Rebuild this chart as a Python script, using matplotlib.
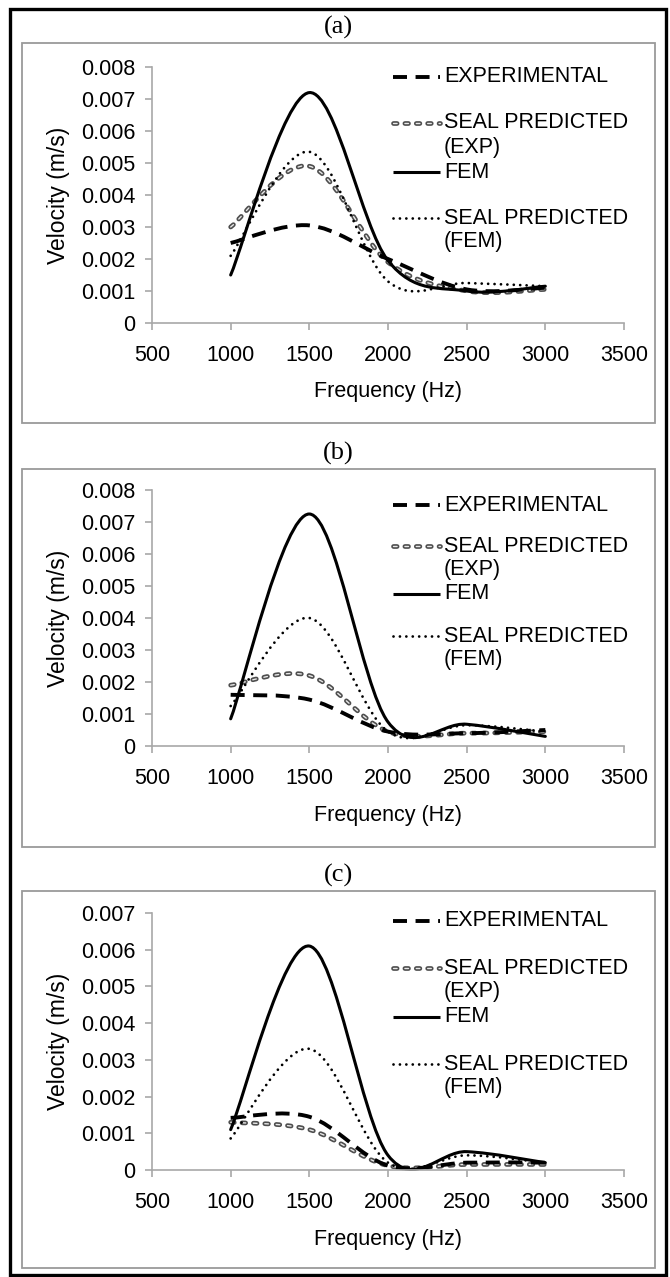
import numpy as np
import matplotlib
matplotlib.use('Agg')
import matplotlib.pyplot as plt
from matplotlib.path import Path
from matplotlib.patches import PathPatch, Rectangle
from matplotlib.lines import Line2D
import matplotlib.patheffects as pe

plt.rcParams['font.family'] = ['Liberation Sans', 'DejaVu Sans']

# ---------------- data ----------------
freq = [1000, 1500, 2000, 2500, 3000]

a_exp = [0.0025, 0.00305, 0.0020, 0.00105, 0.00110]
a_seal_exp = [0.0030, 0.0049, 0.0019, 0.00100, 0.00105]
a_fem = [0.0015, 0.0072, 0.00195, 0.0010, 0.00115]
a_seal_fem = [0.0021, 0.00535, 0.0013, 0.00125, 0.00115]

b_exp = [0.0016, 0.00145, 0.00045, 0.0004, 0.0005]
b_seal_exp = [0.0019, 0.0022, 0.00045, 0.0004, 0.00045]
b_fem = [0.00085, 0.00725, 0.00075, 0.00068, 0.0003]
b_seal_fem = [0.00125, 0.0040, 0.00045, 0.00065, 0.00045]

c_exp = [0.00142, 0.00145, 0.00012, 0.0002, 0.0002]
c_seal_exp = [0.0013, 0.0011, 0.00012, 0.00015, 0.00015]
c_fem = [0.0011, 0.0061, 0.0004, 0.0005, 0.0002]
c_seal_fem = [0.00086, 0.0033, 0.0002, 0.0004, 0.0002]

panel_titles = ['(a)', '(b)', '(c)']
series_labels = ['EXPERIMENTAL', 'SEAL PREDICTED\n(EXP)', 'FEM', 'SEAL PREDICTED\n(FEM)']
x_ticks = [500, 1000, 1500, 2000, 2500, 3000, 3500]
y_ticks_ab = [0, 0.001, 0.002, 0.003, 0.004, 0.005, 0.006, 0.007, 0.008]
y_ticks_c = [0, 0.001, 0.002, 0.003, 0.004, 0.005, 0.006, 0.007]
y_ticklabels_ab = ['0', '0.001', '0.002', '0.003', '0.004', '0.005', '0.006', '0.007', '0.008']
y_ticklabels_c = ['0', '0.001', '0.002', '0.003', '0.004', '0.005', '0.006', '0.007']
xlabel = 'Frequency (Hz)'
ylabel = 'Velocity (m/s)'

panels = [
    (a_exp, a_seal_exp, a_fem, a_seal_fem, y_ticks_ab, y_ticklabels_ab),
    (b_exp, b_seal_exp, b_fem, b_seal_fem, y_ticks_ab, y_ticklabels_ab),
    (c_exp, c_seal_exp, c_fem, c_seal_fem, y_ticks_c, y_ticklabels_c),
]

# ---------------- layout (pixels) ----------------
W, H = 670, 1277
fig = plt.figure(figsize=(W / 100, H / 100), dpi=100)


def fx(x):
    return x / W


def fy(y):
    return 1 - y / H


gray_boxes = [(22, 43, 655, 423), (22, 469, 655, 847), (22, 891, 655, 1268)]
ax_boxes = [(152, 67, 624, 323), (152, 490, 624, 746), (152, 913, 624, 1170)]
legend_rows = [[77, 123, 172, 218], [505, 546, 594, 636], [921, 968, 1017, 1064]]

# outer black border
fig.add_artist(Rectangle((fx(10), fy(1275)), fx(666) - fx(10), fy(9) - fy(1275),
                         transform=fig.transFigure, fill=False, ec='black', lw=2.4))
for (x0, y0, x1, y1) in gray_boxes:
    fig.add_artist(Rectangle((fx(x0), fy(y1)), fx(x1) - fx(x0), fy(y0) - fy(y1),
                             transform=fig.transFigure, fill=False, ec='#9a9a9a', lw=1.3))


def smooth_path(x, y):
    pts = np.column_stack([x, y]).astype(float)
    n = len(pts)
    verts = [pts[0]]
    codes = [Path.MOVETO]
    for i in range(n - 1):
        p0 = pts[i - 1] if i > 0 else pts[i]
        p1 = pts[i]
        p2 = pts[i + 1]
        p3 = pts[i + 2] if i + 2 < n else pts[i + 1]
        c1 = p1 + (p2 - p0) / 6.0
        c2 = p2 - (p3 - p1) / 6.0
        verts += [c1, c2, p2]
        codes += [Path.CURVE4] * 3
    return Path(verts, codes)


styles = [
    dict(color='black', lw=2.8, ls=(0, (3.6, 2.2)), cap='butt', fx=None),
    dict(color='#e8e8e8', lw=1.0, ls=(0, (2.6, 5.6)), cap='round',
         fx=[pe.Stroke(linewidth=3.4, foreground='#4e4e4e', capstyle='round'), pe.Normal()]),
    dict(color='black', lw=2.2, ls='-', cap='round', fx=None),
    dict(color='black', lw=2.0, ls=(0, (0.01, 2.3)), cap='round', fx=None),
]

FS = 15.5

for k, (exp, sexp, fem, sfem, yt, ytl) in enumerate(panels):
    x0, y0, x1, y1 = ax_boxes[k]
    ax = fig.add_axes([fx(x0), fy(y1), fx(x1) - fx(x0), fy(y0) - fy(y1)])
    ax.set_xlim(500, 3500)
    ax.set_ylim(yt[0], yt[-1])
    ax.set_xticks(x_ticks)
    ax.set_xticklabels([str(t) for t in x_ticks])
    ax.set_yticks(yt)
    ax.set_yticklabels(ytl)
    for s in ['top', 'right']:
        ax.spines[s].set_visible(False)
    for s in ['left', 'bottom']:
        ax.spines[s].set_color('#a8a8a8')
        ax.spines[s].set_linewidth(1.2)
    ax.tick_params(axis='both', colors='#a8a8a8', labelcolor='black', length=5,
                   width=1.2, labelsize=FS)
    ax.tick_params(axis='x', pad=11)
    ax.tick_params(axis='y', pad=7)
    ax.patch.set_visible(False)

    for idx in [1, 0, 3, 2]:
        series = [exp, sexp, fem, sfem][idx]
        st = styles[idx]
        patch = PathPatch(smooth_path(freq, series), fill=False, ec=st['color'],
                          lw=st['lw'], ls=st['ls'], capstyle=st['cap'], clip_on=False)
        if st['fx']:
            patch.set_path_effects(st['fx'])
        ax.add_patch(patch)

    gx0, gy0, gx1, gy1 = gray_boxes[k]
    fig.text(fx((gx0 + gx1) / 2), fy(gy0 - 16), panel_titles[k], ha='center', va='center',
             fontsize=19, family=['Liberation Serif', 'DejaVu Serif'])
    fig.text(fx((x0 + x1) / 2), fy(y1 + 69), xlabel, ha='center', va='center', fontsize=FS)
    fig.text(fx(58), fy((y0 + y1) / 2), ylabel, ha='center', va='center', rotation=90,
             fontsize=16.5)

    rows = legend_rows[k]
    for i in range(4):
        st = styles[i]
        ly = fy(rows[i])
        ln = Line2D([fx(393), fx(440)], [ly, ly], transform=fig.transFigure,
                    color=st['color'], lw=st['lw'], ls=st['ls'])
        ln.set_dash_capstyle(st['cap'])
        ln.set_solid_capstyle('butt')
        if st['fx']:
            ln.set_path_effects(st['fx'])
        fig.add_artist(ln)
        lines = series_labels[i].split('\n')
        for j, t in enumerate(lines):
            fig.text(fx(444), fy(rows[i] + 24 * j), t, ha='left', va='center', fontsize=FS)

fig.savefig('out.png', dpi=100)
